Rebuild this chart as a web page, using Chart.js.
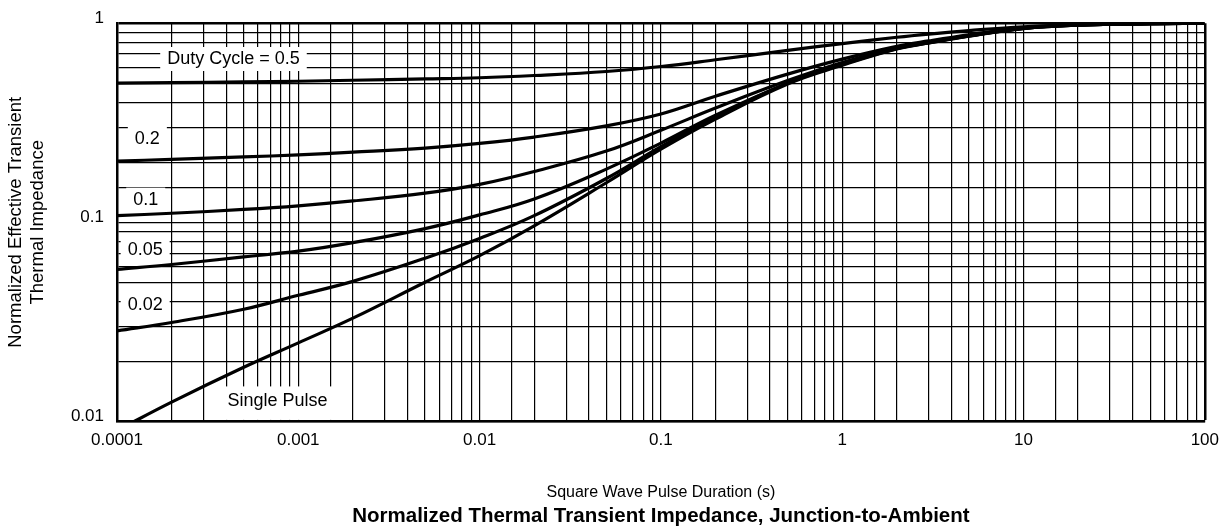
<!DOCTYPE html>
<html>
<head>
<meta charset="utf-8">
<script src="https://cdn.jsdelivr.net/npm/chart.js@4.4.1/dist/chart.umd.min.js"></script>
<style>
  html, body { margin: 0; padding: 0; background: #fff; }
  #wrap { width: 1228px; height: 529px; }
</style>
</head>
<body>
<div id="wrap"><canvas id="zth"></canvas></div>
<script>
// pulse duration (s) and normalized Zth
const pulseTimes = [1e-4, 2e-4, 5e-4, 1e-3, 2e-3, 5e-3, 1e-2, 2e-2, 5e-2, 0.1, 0.2, 0.5, 1, 2, 3, 5, 10, 20, 50, 100];

const duty05 = [0.500, 0.503, 0.507, 0.511, 0.517, 0.525, 0.532, 0.546, 0.572, 0.606, 0.655, 0.730, 0.790, 0.850, 0.882, 0.918, 0.960, 0.984, 0.996, 0.998];
const duty02 = [0.203, 0.207, 0.213, 0.218, 0.225, 0.236, 0.249, 0.268, 0.305, 0.350, 0.430, 0.555, 0.660, 0.765, 0.815, 0.875, 0.948, 0.980, 0.995, 0.998];
const duty01 = [0.108, 0.111, 0.116, 0.121, 0.128, 0.140, 0.155, 0.180, 0.228, 0.290, 0.375, 0.515, 0.635, 0.752, 0.803, 0.866, 0.944, 0.979, 0.995, 0.998];
const duty005 = [0.058, 0.0614, 0.067, 0.0716, 0.079, 0.093, 0.109, 0.131, 0.185, 0.250, 0.345, 0.500, 0.625, 0.748, 0.799, 0.864, 0.942, 0.979, 0.995, 0.998];
const duty002 = [0.0285, 0.0314, 0.0366, 0.043, 0.0505, 0.066, 0.083, 0.108, 0.166, 0.240, 0.338, 0.500, 0.620, 0.745, 0.796, 0.862, 0.941, 0.978, 0.995, 0.998];
const singlePulse = [0.0090, 0.0125, 0.0187, 0.0248, 0.033, 0.050, 0.068, 0.096, 0.158, 0.233, 0.330, 0.495, 0.615, 0.743, 0.795, 0.861, 0.940, 0.978, 0.995, 0.998];

const seriesList = [duty05, duty02, duty01, duty005, duty002, singlePulse];

// curve labels, placed in data coordinates
const curveLabels = [
  { text: "Duty Cycle = 0.5", t: 4.39e-4, v: 0.661 },
  { text: "0.2", t: 1.47e-4, v: 0.263 },
  { text: "0.1", t: 1.44e-4, v: 0.130 },
  { text: "0.05", t: 1.43e-4, v: 0.0724 },
  { text: "0.02", t: 1.43e-4, v: 0.0385 },
  { text: "Single Pulse", t: 7.67e-4, v: 0.0126 }
];

const FONT = '"Liberation Sans", Arial, Helvetica, sans-serif';
Chart.defaults.font.family = FONT;
Chart.defaults.color = "#000";

const isDecade = (v) => {
  const l = Math.log10(v);
  return Math.abs(l - Math.round(l)) < 1e-9;
};

// white boxes behind the curve labels (they cut the grid, not the curves)
const labelBoxes = {
  id: "labelBoxes",
  beforeDatasetsDraw(chart) {
    const { ctx, chartArea } = chart;
    const x = chart.scales.x, y = chart.scales.y;
    ctx.save();
    ctx.font = "18px " + FONT;
    ctx.textAlign = "center";
    ctx.textBaseline = "middle";
    curveLabels.forEach((l) => {
      const cx = x.getPixelForValue(l.t);
      const cy = y.getPixelForValue(l.v);
      const w = ctx.measureText(l.text).width + 14;
      let top = cy - 12, bot = cy + 12;
      if (chartArea.bottom - bot < 12) { top -= 3; bot = chartArea.bottom - 1.5; }
      ctx.fillStyle = "#fff";
      ctx.fillRect(cx - w / 2, top, w, bot - top);
      ctx.fillStyle = "#000";
      ctx.fillText(l.text, cx, cy);
    });
    ctx.restore();
  }
};

new Chart(document.getElementById("zth"), {
  type: "line",
  data: {
    datasets: seriesList.map((s) => ({
      data: pulseTimes.map((t, i) => ({ x: t, y: s[i] })),
      borderColor: "#000",
      borderWidth: 3.2,
      pointRadius: 0,
      fill: false,
      tension: 0.4
    }))
  },
  options: {
    responsive: true,
    maintainAspectRatio: false,
    animation: false,
    devicePixelRatio: 1,
    layout: { padding: { left: 0, right: 23, top: 21, bottom: 0 } },
    plugins: {
      legend: { display: false },
      tooltip: { enabled: false },
      title: {
        display: true,
        fullSize: false,
        position: "bottom",
        text: "Normalized Thermal Transient Impedance, Junction-to-Ambient",
        color: "#000",
        font: { size: 20.5, weight: "bold" },
        padding: { top: 1, bottom: 0 }
      }
    },
    scales: {
      x: {
        type: "logarithmic",
        min: 1e-4,
        max: 100,
        afterFit: (s) => { s.height = 82; },
        grid: {
          color: "#000",
          lineWidth: (c) => (c.tick && c.tick.value >= 100 ? 2.5 : 1.2),
          drawTicks: false
        },
        border: { color: "#000", width: 2.5 },
        ticks: {
          autoSkip: false,
          maxRotation: 0,
          minRotation: 0,
          padding: 9,
          font: { size: 17 },
          callback: (v) => (isDecade(v) ? String(v) : "")
        },
        title: {
          display: true,
          text: "Square Wave Pulse Duration (s)",
          font: { size: 16 },
          padding: { top: 0, bottom: 1 }
        }
      },
      y: {
        type: "logarithmic",
        min: 0.01,
        max: 1,
        afterFit: (s) => { s.width = 117; },
        grid: {
          color: "#000",
          lineWidth: (c) => (c.tick && c.tick.value >= 1 ? 2.5 : 1.2),
          drawTicks: false
        },
        border: { color: "#000", width: 2.5 },
        ticks: {
          autoSkip: false,
          padding: 13,
          labelOffset: -5,
          font: { size: 17 },
          callback: (v) => (isDecade(v) ? String(v) : "")
        },
        title: {
          display: true,
          text: ["Normalized Effective Transient", "Thermal Impedance"],
          font: { size: 18.5, lineHeight: 1.2 },
          padding: { top: 5, bottom: 0 }
        }
      }
    }
  },
  plugins: [labelBoxes]
});
</script>
</body>
</html>
